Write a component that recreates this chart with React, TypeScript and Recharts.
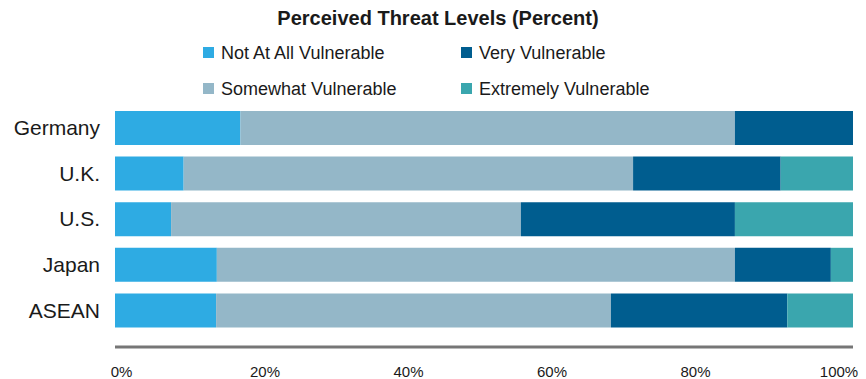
import React from 'react';
import { BarChart, Bar, XAxis, YAxis, Legend } from 'recharts';

const FONT = '"Liberation Sans", Arial, Helvetica, sans-serif';

const regions = ['Germany', 'U.K.', 'U.S.', 'Japan', 'ASEAN'];
const notAtAll = [17, 9.3, 7.6, 13.8, 13.7];
const somewhat = [67, 60.9, 47.4, 70.2, 53.5];
const very = [16, 20, 29, 13, 23.9];
const extremely = [0, 9.8, 16, 3, 8.9];
const percentTicks = [0, 20, 40, 60, 80, 100];

const series = [
  { key: 'notAtAll', name: 'Not At All Vulnerable', color: '#2eabe3' },
  { key: 'somewhat', name: 'Somewhat Vulnerable', color: '#94b7c8' },
  { key: 'very', name: 'Very Vulnerable', color: '#005d8f' },
  { key: 'extremely', name: 'Extremely Vulnerable', color: '#3aa6ae' },
];

const data = regions.map((name, i) => ({
  name,
  notAtAll: notAtAll[i],
  somewhat: somewhat[i],
  very: very[i],
  extremely: extremely[i],
}));

// legend reads column-wise: left column first two series, right column the rest
const legendOrder = ['notAtAll', 'very', 'somewhat', 'extremely'];

const TitleLegend = () => (
  <div style={{ width: 866, fontFamily: FONT, color: '#1a1a1a' }}>
    <div
      style={{
        position: 'absolute',
        top: 8,
        left: 0,
        width: 866,
        textAlign: 'center',
        fontSize: 20,
        lineHeight: '20px',
        fontWeight: 700,
        paddingLeft: 10,
        boxSizing: 'border-box',
      }}
    >
      Perceived Threat Levels (Percent)
    </div>
    <div
      style={{
        position: 'absolute',
        top: 34.5,
        left: 203,
        display: 'grid',
        gridTemplateColumns: '258px auto',
        gridAutoRows: '36px',
      }}
    >
      {legendOrder.map((k) => {
        const s = series.find((x) => x.key === k)!;
        return (
          <div key={k} style={{ display: 'flex', alignItems: 'center', fontSize: 18, lineHeight: '36px' }}>
            <span style={{ width: 11, height: 11, background: s.color, marginRight: 7, display: 'inline-block' }} />
            <span>{s.name}</span>
          </div>
        );
      })}
    </div>
  </div>
);

// percent labels sit slightly inside the axis ends
const PercentTick = ({ x, y, payload }: any) => {
  const v = payload.value as number;
  const dx = 6.5 - (v / 100) * 20.5;
  return (
    <text x={x + dx} y={y} dy="0.71em" textAnchor="middle" fontSize={15} fill="#1a1a1a" fontFamily={FONT}>
      {`${v}%`}
    </text>
  );
};

export default function App() {
  return (
    <div style={{ position: 'fixed', top: 0, left: 0, width: 866, height: 379, background: '#fff' }}>
      <BarChart
        width={866}
        height={379}
        data={data}
        layout="vertical"
        margin={{ top: 105, right: 13, bottom: 0, left: 0 }}
      >
        <Legend
          layout="vertical"
          align="center"
          verticalAlign="middle"
          wrapperStyle={{ top: 0, left: 0, width: 866, height: 100 }}
          content={<TitleLegend />}
        />
        <YAxis
          type="category"
          dataKey="name"
          width={115}
          axisLine={false}
          tickLine={false}
          tickMargin={9}
          padding={{ top: 0, bottom: 14 }}
          tick={{ fontSize: 21, fill: '#1a1a1a', fontFamily: FONT }}
        />
        <XAxis
          type="number"
          domain={[0, 100]}
          ticks={percentTicks}
          allowDataOverflow
          height={32}
          tickLine={false}
          tickMargin={13}
          axisLine={{ stroke: '#767676', strokeWidth: 3 }}
          tick={<PercentTick />}
        />
        {series.map((s) => (
          <Bar
            key={s.key}
            dataKey={s.key}
            name={s.name}
            stackId="threat"
            fill={s.color}
            barSize={34}
            isAnimationActive={false}
          />
        ))}
      </BarChart>
    </div>
  );
}
